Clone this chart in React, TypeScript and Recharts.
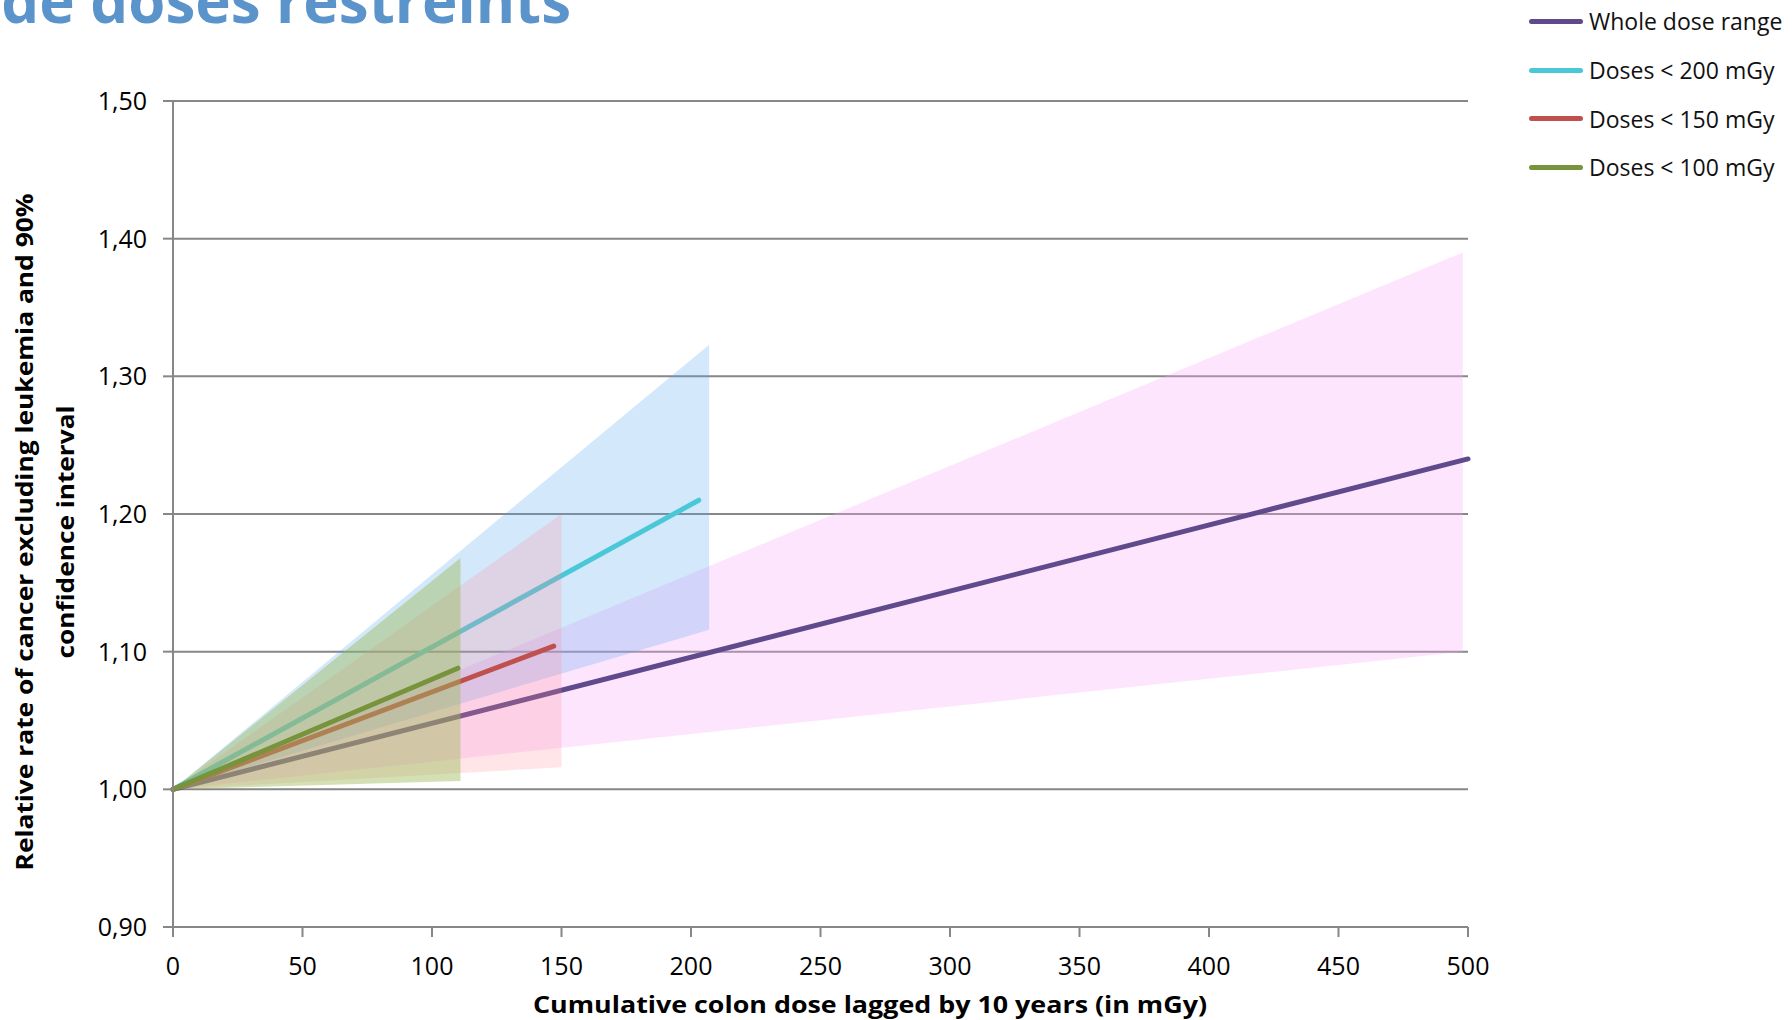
import React from "react";
import {
  Area,
  CartesianGrid,
  ComposedChart,
  Line,
  XAxis,
  YAxis
} from "recharts";

// dose axis (mGy) and relative rate axis
const xTicks = [0, 50, 100, 150, 200, 250, 300, 350, 400, 450, 500];
const yTicks = [0.9, 1.0, 1.1, 1.2, 1.3, 1.4, 1.5];

// fitted lines: [start, end] dose and relative rate
const wholeDose = [0, 500];
const wholeRate = [1.0, 1.24];
const d200Dose = [0, 203];
const d200Rate = [1.0, 1.21];
const d150Dose = [0, 147];
const d150Rate = [1.0, 1.104];
const d100Dose = [0, 110];
const d100Rate = [1.0, 1.088];

// 90% confidence bands: dose, lower, upper
const wholeCiDose = [0, 498];
const wholeCiLow = [1.0, 1.1];
const wholeCiHigh = [1.0, 1.39];
const d200CiDose = [0, 207];
const d200CiLow = [1.0, 1.116];
const d200CiHigh = [1.0, 1.323];
const d150CiDose = [0, 150];
const d150CiLow = [1.0, 1.016];
const d150CiHigh = [1.0, 1.2];
const d100CiDose = [0, 111];
const d100CiLow = [1.0, 1.006];
const d100CiHigh = [1.0, 1.168];

const lineData = (dose: number[], rate: number[]) =>
  dose.map((d, i) => ({ dose: d, rate: rate[i] }));
const bandData = (dose: number[], low: number[], high: number[]) =>
  dose.map((d, i) => ({ dose: d, ci: [low[i], high[i]] }));

const series = [
  { name: "Whole dose range", color: "#5f4b8b" },
  { name: "Doses < 200 mGy", color: "#4bc8d8" },
  { name: "Doses < 150 mGy", color: "#c0504d" },
  { name: "Doses < 100 mGy", color: "#77933c" }
];

const gridColor = "#878787";
const font = "'Open Sans', sans-serif";

function LegendBox() {
  return (
    <div style={{ position: "absolute", left: 1529, top: -3, fontFamily: font }}>
      {series.map((s) => (
        <div key={s.name} style={{ display: "flex", alignItems: "center", height: 48.7 }}>
          <div
            style={{
              width: 54,
              height: 5,
              borderRadius: 3,
              background: s.color,
              marginRight: 6
            }}
          />
          <span style={{ fontSize: 23, color: "#111", whiteSpace: "nowrap" }}>{s.name}</span>
        </div>
      ))}
    </div>
  );
}

export default function App() {
  const fmt = (v: number) => v.toFixed(2).replace(".", ",");
  return (
    <div style={{ position: "absolute", left: 0, top: 0, width: 1792, height: 1020, background: "#fff" }}>
      <ComposedChart
        width={1792}
        height={1020}
        margin={{ top: 101, right: 324, bottom: 0, left: 0 }}
      >
        <CartesianGrid vertical={false} stroke={gridColor} strokeWidth={2} />
        <XAxis
          dataKey="dose"
          type="number"
          domain={[0, 500]}
          ticks={xTicks}
          height={93}
          tickSize={10}
          tickMargin={20}
          stroke={gridColor}
          strokeWidth={2}
          tick={{ fill: "#000", fontSize: 25, fontFamily: font }}
          allowDuplicatedCategory={false}
        />
        <YAxis
          type="number"
          domain={[0.9, 1.5]}
          ticks={yTicks}
          width={173}
          tickSize={10}
          tickMargin={16}
          stroke={gridColor}
          strokeWidth={2}
          tickFormatter={fmt}
          tick={{ fill: "#000", fontSize: 25, fontFamily: font }}
        />

        <Area
          data={bandData(wholeCiDose, wholeCiLow, wholeCiHigh)}
          dataKey="ci"
          type="linear"
          stroke="none"
          fill="#f9a8f9"
          fillOpacity={0.3}
          legendType="none"
          zIndex={1}
          isAnimationActive={false}
        />
        <Line
          data={lineData(wholeDose, wholeRate)}
          dataKey="rate"
          type="linear"
          stroke={series[0].color}
          strokeWidth={5}
          strokeLinecap="round"
          dot={false}
          activeDot={false}
          zIndex={2}
          isAnimationActive={false}
        />
        <Area
          data={bandData(d200CiDose, d200CiLow, d200CiHigh)}
          dataKey="ci"
          type="linear"
          stroke="none"
          fill="#5aa5f2"
          fillOpacity={0.26}
          legendType="none"
          zIndex={3}
          isAnimationActive={false}
        />
        <Line
          data={lineData(d200Dose, d200Rate)}
          dataKey="rate"
          type="linear"
          stroke={series[1].color}
          strokeWidth={5}
          strokeLinecap="round"
          dot={false}
          activeDot={false}
          zIndex={4}
          isAnimationActive={false}
        />
        <Area
          data={bandData(d150CiDose, d150CiLow, d150CiHigh)}
          dataKey="ci"
          type="linear"
          stroke="none"
          fill="#ff8a96"
          fillOpacity={0.22}
          legendType="none"
          zIndex={5}
          isAnimationActive={false}
        />
        <Line
          data={lineData(d150Dose, d150Rate)}
          dataKey="rate"
          type="linear"
          stroke={series[2].color}
          strokeWidth={5}
          strokeLinecap="round"
          dot={false}
          activeDot={false}
          zIndex={6}
          isAnimationActive={false}
        />
        <Area
          data={bandData(d100CiDose, d100CiLow, d100CiHigh)}
          dataKey="ci"
          type="linear"
          stroke="none"
          fill="#9bbb59"
          fillOpacity={0.45}
          legendType="none"
          zIndex={7}
          isAnimationActive={false}
        />
        <Line
          data={lineData(d100Dose, d100Rate)}
          dataKey="rate"
          type="linear"
          stroke={series[3].color}
          strokeWidth={5}
          strokeLinecap="round"
          dot={false}
          activeDot={false}
          zIndex={8}
          isAnimationActive={false}
        />
      </ComposedChart>

      <LegendBox />

      {/* slide title and axis titles */}
      <svg
        width={1792}
        height={1020}
        style={{ position: "absolute", left: 0, top: 0, pointerEvents: "none" }}
      >
        <text
          x={571}
          y={23}
          textAnchor="end"
          fontFamily={font}
          fontWeight={700}
          fontSize={60}
          fill="#5b93cb"
        >
          de doses restreints
        </text>
        <text
          x={870}
          y={1013}
          textAnchor="middle"
          fontFamily={font}
          fontWeight={700}
          fontSize={24}
          textLength={674}
          lengthAdjust="spacingAndGlyphs"
          fill="#000"
        >
          Cumulative colon dose lagged by 10 years (in mGy)
        </text>
        <g transform="translate(0,532) rotate(-90)">
          <text
            x={0}
            y={33}
            textAnchor="middle"
            fontFamily={font}
            fontWeight={700}
            fontSize={24}
            textLength={677}
            lengthAdjust="spacingAndGlyphs"
            fill="#000"
          >
            Relative rate of cancer excluding leukemia and 90%
          </text>
          <text
            x={0}
            y={74}
            textAnchor="middle"
            fontFamily={font}
            fontWeight={700}
            fontSize={24}
            textLength={253}
            lengthAdjust="spacingAndGlyphs"
            fill="#000"
          >
            confidence interval
          </text>
        </g>
      </svg>
    </div>
  );
}
